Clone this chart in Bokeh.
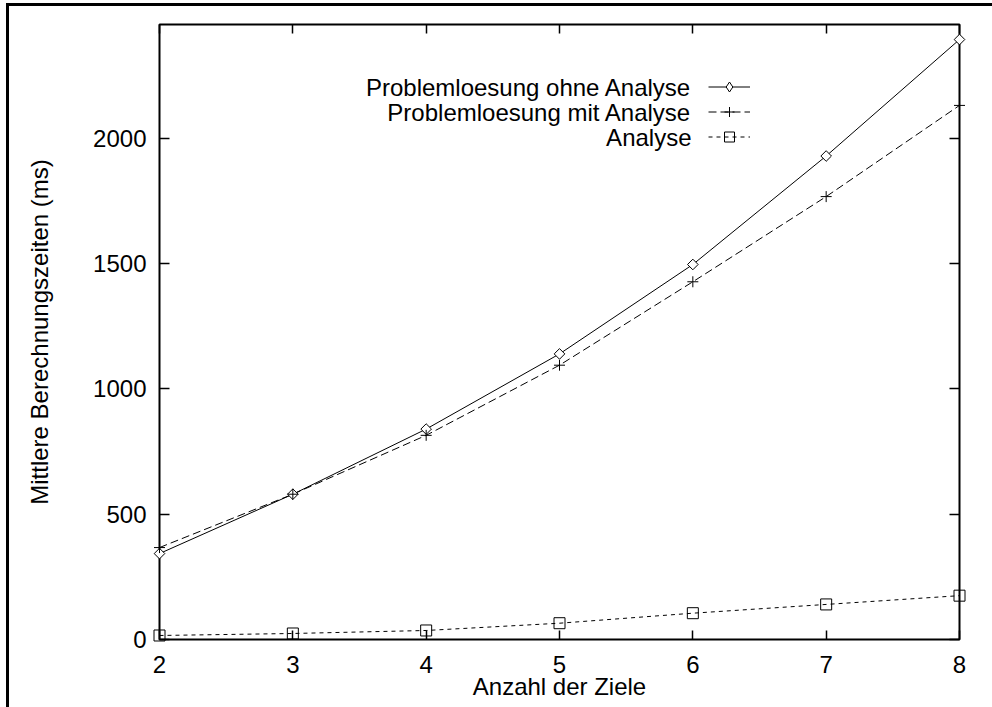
from bokeh.plotting import figure
from bokeh.models import (Range1d, LinearAxis, FixedTicker, Legend, LegendItem, Label)
from bokeh.embed import file_html
from bokeh.resources import INLINE
import numpy as np

# ---- data ----
ziele = [2, 3, 4, 5, 6, 7, 8]
ohne_analyse = [343, 580, 840, 1140, 1497, 1930, 2395]
mit_analyse = [367, 580, 815, 1095, 1428, 1768, 2132]
analyse = [16, 24, 36, 65, 105, 140, 175]
series_names = ["Problemloesung ohne Analyse", "Problemloesung mit Analyse", "Analyse"]
x_ticks = [2, 3, 4, 5, 6, 7, 8]
y_ticks = [0, 500, 1000, 1500, 2000]

FONT = "Liberation Sans"
FS = "24px"

p = figure(width=992, height=707, output_backend="svg", toolbar_location=None,
           x_range=Range1d(2, 8), y_range=Range1d(0, 2455),
           min_border_left=159, min_border_right=33, min_border_top=24,
           min_border_bottom=68, background_fill_color="white",
           border_fill_color="white", border_fill_alpha=0)
# page border (top and left edge of the scanned page)
p.styles = {"box-shadow": "inset 6px 3px 0 0 white, inset 9px 6px 0 0 black",
            "background-color": "white"}
p.xgrid.visible = False
p.ygrid.visible = False
p.outline_line_color = "black"
p.outline_line_width = 2
p.outline_line_alpha = 1

for ax in (p.xaxis[0], p.yaxis[0]):
    ax.axis_line_color = None
    ax.major_tick_in = 10 if ax is p.yaxis[0] else 9
    ax.major_tick_out = 0
    ax.minor_tick_line_color = None
    ax.major_tick_line_color = "black"
    ax.major_tick_line_width = 1.5
    ax.major_label_text_font = FONT
    ax.major_label_text_font_size = FS
    ax.major_label_text_color = "black"
    ax.axis_label_text_font = FONT
    ax.axis_label_text_font_size = FS
    ax.axis_label_text_font_style = "normal"
    ax.axis_label_text_color = "black"

p.xaxis[0].ticker = FixedTicker(ticks=x_ticks)
p.yaxis[0].ticker = FixedTicker(ticks=y_ticks)
p.xaxis[0].axis_label = "Anzahl der Ziele"
p.yaxis[0].axis_label = "Mittlere Berechnungszeiten (ms)"
p.xaxis[0].major_label_standoff = 16
p.yaxis[0].major_label_standoff = 13
p.xaxis[0].axis_label_standoff = -3
p.yaxis[0].axis_label_standoff = 37

# mirrored ticks (no labels)
top_ax = LinearAxis(ticker=FixedTicker(ticks=x_ticks), axis_line_color=None,
                    major_tick_in=9, major_tick_out=0, minor_tick_line_color=None,
                    major_tick_line_width=1.5, major_label_text_color=None)
right_ax = LinearAxis(ticker=FixedTicker(ticks=y_ticks), axis_line_color=None,
                      major_tick_in=10, major_tick_out=0, minor_tick_line_color=None,
                      major_tick_line_width=1.5, major_label_text_color=None)
p.add_layout(top_ax, "above")
p.add_layout(right_ax, "right")

# ---- series ----
l1 = p.line(ziele, ohne_analyse, line_color="black", line_width=1)
m1 = p.scatter(ziele, ohne_analyse, marker="square", angle=np.pi / 4, size=7.5,
               line_color="black", fill_color="white", line_width=1, level="overlay")
l2 = p.line(ziele, mit_analyse, line_color="black", line_width=1, line_dash="8 4")
m2 = p.scatter(ziele, mit_analyse, marker="cross", size=11,
               line_color="black", line_width=1, level="overlay")
l3 = p.line(ziele, analyse, line_color="black", line_width=1, line_dash="4 4")
m3 = p.scatter(ziele, analyse, marker="square", size=11,
               line_color="black", fill_color=None, line_width=1, level="overlay")
# legend-only diamond sample (the legend draws markers without rotation)
d1 = p.scatter(ziele, ohne_analyse, marker="diamond", line_color="black",
               fill_color="white", line_width=1, visible=False)

# ---- legend: samples via Legend, texts via right-aligned Labels ----
legend = Legend(items=[LegendItem(label=" ", renderers=[l1, d1]),
                       LegendItem(label=" ", renderers=[l2, m2]),
                       LegendItem(label=" ", renderers=[l3, m3])],
                location=(549, 490), glyph_width=42, glyph_height=25, spacing=0,
                padding=0, margin=0, border_line_color=None,
                background_fill_alpha=0, label_standoff=0, label_width=0,
                label_height=0, label_text_font_size="1px",
                inactive_fill_alpha=0)
p.add_layout(legend)

row_y = [552, 527, 502]
for name, yy in zip(series_names, row_y):
    p.add_layout(Label(x=532, y=yy, x_units="screen", y_units="screen", text=name,
                       text_align="right", text_baseline="middle",
                       text_font=FONT, text_font_size=FS, text_color="black"))

open("out.html", "w").write(file_html(p, INLINE))
